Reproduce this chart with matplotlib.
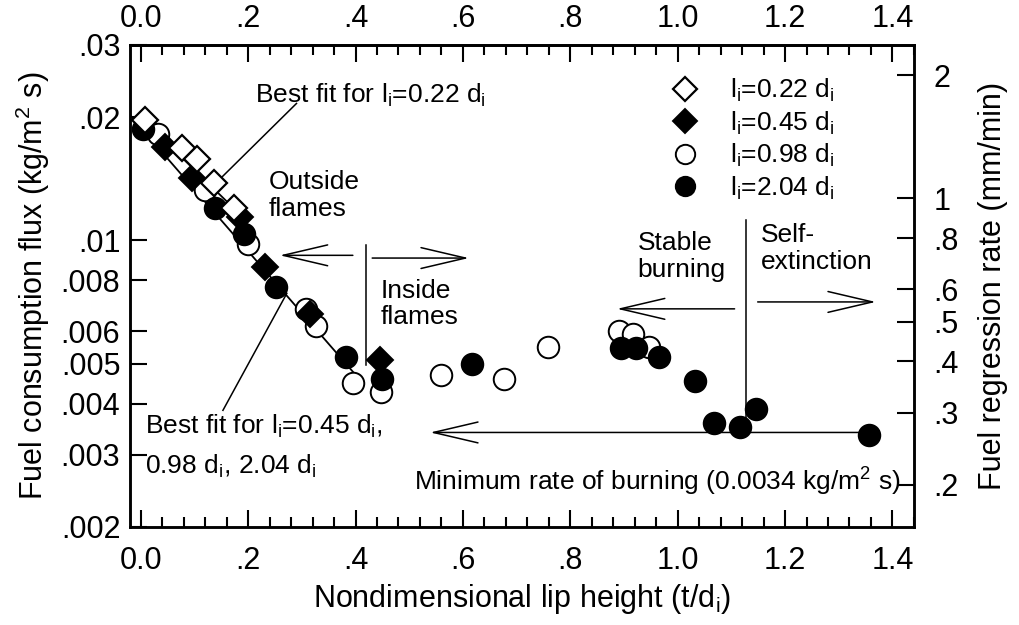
import matplotlib
matplotlib.use("Agg")
import matplotlib.pyplot as plt
from matplotlib.ticker import FixedLocator, NullLocator, MultipleLocator

plt.rcParams["font.family"] = ["Liberation Sans", "DejaVu Sans"]
plt.rcParams["mathtext.default"] = "regular"

# ---- data ---------------------------------------------------------------
# lip height t/d_i  vs  fuel consumption flux (kg/m^2 s)
x_022 = [0.007, 0.076, 0.104, 0.136, 0.174]
y_022 = [0.0197, 0.0168, 0.0158, 0.0138, 0.0120]

x_045 = [0.045, 0.095, 0.185, 0.231, 0.316, 0.446]
y_045 = [0.0169, 0.0142, 0.0114, 0.0086, 0.0066, 0.0051]

x_098 = [0.032, 0.120, 0.200, 0.308, 0.327, 0.396, 0.447, 0.559, 0.676,
         0.759, 0.891, 0.916, 0.947]
y_098 = [0.0182, 0.0133, 0.0098, 0.0068, 0.0062, 0.00448, 0.00426, 0.0047,
         0.0046, 0.0055, 0.0060, 0.0059, 0.0055]

x_204 = [0.004, 0.139, 0.192, 0.251, 0.382, 0.450, 0.617, 0.894, 0.922,
         0.966, 1.033, 1.067, 1.116, 1.145, 1.357]
y_204 = [0.0187, 0.0120, 0.0104, 0.0077, 0.0052, 0.0046, 0.0050, 0.00548,
         0.00548, 0.0052, 0.00455, 0.00358, 0.0035, 0.00387, 0.00335]

# best-fit lines (end points)
fit_all_x = [-0.02, 0.405]
fit_all_y = [0.0202, 0.00462]
fit_022_x = [0.0, 0.19]
fit_022_y = [0.0200, 0.0114]

min_rate = 0.0034          # kg/m^2 s
min_rate_x = [0.539, 1.357]

# kg/m^2 s per mm/min (PMMA, ~760 kg/m^3)
flux_per_mm_min = 0.76 / 60

x_ticks = [0.0, 0.2, 0.4, 0.6, 0.8, 1.0, 1.2, 1.4]
x_ticklabels = ["0.0", ".2", ".4", ".6", ".8", "1.0", "1.2", "1.4"]
y_ticks = [0.03, 0.02, 0.01, 0.008, 0.006, 0.005, 0.004, 0.003, 0.002]
y_ticklabels = [".03", ".02", ".01", ".008", ".006", ".005", ".004", ".003", ".002"]
r_ticks = [2, 1, 0.8, 0.6, 0.5, 0.4, 0.3, 0.2]
r_ticklabels = ["2", "1", ".8", ".6", ".5", ".4", ".3", ".2"]

sub = r"$_\mathregular{i}$"
labels = [f"l{sub}=0.22 d{sub}", f"l{sub}=0.45 d{sub}",
          f"l{sub}=0.98 d{sub}", f"l{sub}=2.04 d{sub}"]

# ---- figure ---------------------------------------------------------------
fig = plt.figure(figsize=(10.2, 6.25), dpi=100)
ax = fig.add_axes([0.1275, 0.157, 0.7685, 0.771])

ax.set_yscale("log")
ax.set_xlim(-0.02, 1.44)
ax.set_ylim(0.002, 0.03)

lw_line = 1.3
ax.plot(fit_all_x, fit_all_y, color="black", lw=lw_line, zorder=2)
ax.plot(fit_022_x, fit_022_y, color="black", lw=lw_line, zorder=2)

ms = 15.5
ax.plot(x_098, y_098, "o", ms=ms, mfc="white", mec="black", mew=1.4,
        ls="none", label=labels[2], zorder=3)
ax.plot(x_204, y_204, "o", ms=ms, mfc="black", mec="black", mew=1.4,
        ls="none", label=labels[3], zorder=4)
ax.plot(x_045, y_045, "D", ms=13.5, mfc="black", mec="black", mew=1.4,
        ls="none", label=labels[1], zorder=5)
ax.plot(x_022, y_022, "D", ms=13.5, mfc="white", mec="black", mew=1.6,
        ls="none", label=labels[0], zorder=6)

# legend in the order of the original
handles, labs = ax.get_legend_handles_labels()
order = [3, 2, 0, 1]
leg = ax.legend([handles[i] for i in order], [labs[i] for i in order],
                loc="upper left", bbox_to_anchor=(0.668, 0.972),
                frameon=False, fontsize=19, handlelength=1.0,
                handletextpad=1.2, labelspacing=0.2, borderpad=0.2,
                markerscale=0.9)

# ---- annotations ----------------------------------------------------------
txt = dict(fontsize=19, color="black")
arrow = dict(arrowstyle="->,head_length=3.2,head_width=0.75", lw=1.1,
             color="black", mutation_scale=10, shrinkA=0, shrinkB=0)

# leader lines for the best-fit labels
ax.plot([0.290, 0.142], [0.0216, 0.0139], color="black", lw=1.1)
ax.plot([0.153, 0.272], [0.00385, 0.00743], color="black", lw=1.1)
ax.text(0.213, 0.0226, f"Best fit for l{sub}=0.22 d{sub}", va="center", **txt)
ax.text(0.007, 0.00352, f"Best fit for l{sub}=0.45 d{sub},", va="center", **txt)
ax.text(0.007, 0.00281, f"0.98 d{sub}, 2.04 d{sub}", va="center", **txt)

# outside / inside flames
ax.plot([0.42, 0.42], [0.00975, 0.00497], color="black", lw=1.1)
ax.annotate("", xy=(0.259, 0.0092), xytext=(0.395, 0.0092), arrowprops=arrow)
ax.annotate("", xy=(0.611, 0.00906), xytext=(0.431, 0.00906), arrowprops=arrow)
ax.text(0.238, 0.0129, "Outside\nflames", va="center", linespacing=1.15, **txt)
ax.text(0.446, 0.0070, "Inside\nflames", va="center", linespacing=1.15, **txt)

# stable burning / self-extinction
ax.plot([1.128, 1.128], [0.0112, min_rate], color="black", lw=1.1)
ax.annotate("", xy=(0.887, 0.00681), xytext=(1.106, 0.00681), arrowprops=arrow)
ax.annotate("", xy=(1.369, 0.00708), xytext=(1.149, 0.00708), arrowprops=arrow)
ax.text(0.925, 0.00915, "Stable\nburning", va="center", linespacing=1.15, **txt)
ax.text(1.155, 0.00955, "Self-\nextinction", va="center", linespacing=1.15, **txt)

# minimum rate of burning
ax.annotate("", xy=(min_rate_x[0], min_rate), xytext=(min_rate_x[1], min_rate),
            arrowprops=arrow)
ax.text(0.509, 0.00258, "Minimum rate of burning (0.0034 kg/m$^2$ s)",
        va="center", **txt)

# ---- axes styling ---------------------------------------------------------
ax.xaxis.set_major_locator(FixedLocator(x_ticks))
ax.xaxis.set_minor_locator(MultipleLocator(0.04))
ax.set_xticklabels(x_ticklabels)
ax.yaxis.set_major_locator(FixedLocator(y_ticks))
ax.yaxis.set_minor_locator(NullLocator())
ax.set_yticklabels(y_ticklabels)

ax.tick_params(which="both", direction="in", top=False, right=False,
               width=1.5, labelsize=22)
ax.tick_params(which="major", length=12)
ax.tick_params(which="minor", length=7)
ax.tick_params(axis="x", which="major", pad=14)
ax.tick_params(axis="y", which="major", pad=7)
for s in ax.spines.values():
    s.set_linewidth(1.8)

# top axis repeats the bottom scale
top = ax.secondary_xaxis("top")
top.xaxis.set_major_locator(FixedLocator(x_ticks))
top.xaxis.set_minor_locator(MultipleLocator(0.04))
top.set_xticklabels(x_ticklabels)
top.tick_params(which="both", direction="in", width=1.5, labelsize=22, pad=8)
top.tick_params(which="major", length=12)
top.tick_params(which="minor", length=7)
top.spines["top"].set_linewidth(1.8)

ax.set_xlabel("Nondimensional lip height (t/d$_\\mathregular{i}$)", fontsize=22,
              labelpad=4)
ax.set_ylabel("Fuel consumption flux (kg/m$^2$ s)", fontsize=22, labelpad=6)

# right axis: fuel regression rate (mm/min)
ax2 = ax.twinx()
ax2.set_yscale("log")
ax2.set_ylim(0.002 / flux_per_mm_min, 0.03 / flux_per_mm_min)
ax2.yaxis.set_major_locator(FixedLocator(r_ticks))
ax2.yaxis.set_minor_locator(NullLocator())
ax2.set_yticklabels(r_ticklabels)
ax2.tick_params(which="both", direction="in", width=1.5, length=12,
                labelsize=22, pad=14)
ax2.set_ylabel("Fuel regression rate (mm/min)", fontsize=22, labelpad=14)
for s in ax2.spines.values():
    s.set_linewidth(1.8)

fig.savefig("out.png", dpi=100)
